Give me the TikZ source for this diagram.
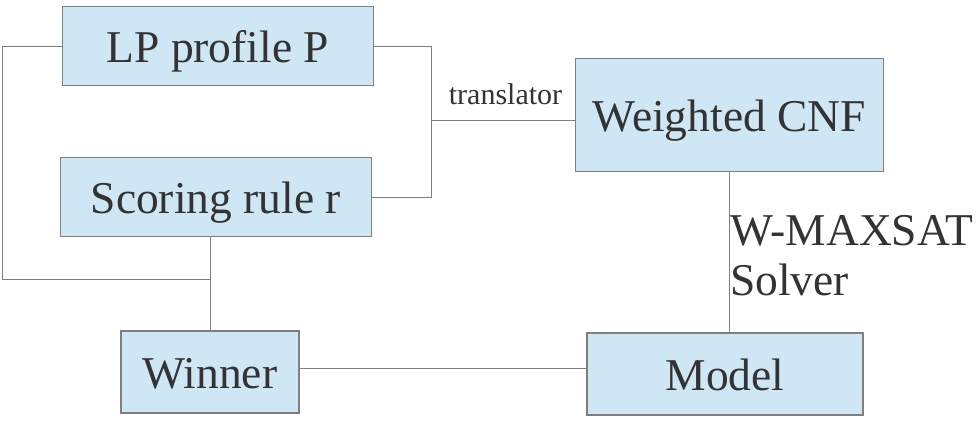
\documentclass[tikz,border=0pt]{standalone}
\usepackage{fontspec}
\setmainfont{Liberation Serif}
\definecolor{boxfill}{HTML}{CFE6F4}
\definecolor{boxline}{HTML}{7F7F7F}
\definecolor{txt}{HTML}{333333}
\begin{document}
\begin{tikzpicture}[x=1pt,y=-1pt,
  every node/.style={text=txt,inner sep=0pt},
  blk/.style={draw=boxline,fill=boxfill,line width=1.3pt,font=\fontsize{45.5}{50}\selectfont,
    text height=42.3pt,text depth=9.1pt},
  wire/.style={draw=boxline,line width=1pt}]
\useasboundingbox (0,0) rectangle (980,422);
%boxes

\node[blk,minimum width=311pt,minimum height=79pt] (lp) at (217.8,46.3) {LP profile P};
\node[blk,minimum width=311pt,minimum height=79pt] (score) at (215.8,197.3) {Scoring rule r};
\node[blk,minimum width=308pt,minimum height=113pt] (cnf) at (729.3,115) {Weighted CNF};
\node[blk,minimum width=178pt,minimum height=82pt] (win) at (210,372) {Winner};
\node[blk,minimum width=276pt,minimum height=82pt] (model) at (725,374) {Model};

%junctions
\coordinate (tr) at (431.7,120.3);
\coordinate (jl) at (209.5,279);

\draw[wire] (lp.west) -- ++(-59.6,0) |- (jl);
\draw[wire] (win.north) -- (win.north |- score.south);
\draw[wire] (lp.east) -| (tr) |- (score.east);
\draw[wire] (tr) -- (tr -| cnf.west);
\draw[wire] (cnf.south) -- (cnf.south |- model.north);
\draw[wire] ([yshift=4pt]win.east) -- ([yshift=4pt]win.east -| model.west);

%labels
\node[anchor=base,font=\fontsize{30}{34}\selectfont] (trlab) at (505.5,105) {translator};
\node[anchor=base west,font=\fontsize{45.5}{50}\selectfont] (solv1) at (730,245) {W-MAXSAT};
\node[anchor=base west,font=\fontsize{45.5}{50}\selectfont] (solv2) at (730,295.7) {Solver};

\end{tikzpicture}
\end{document}
